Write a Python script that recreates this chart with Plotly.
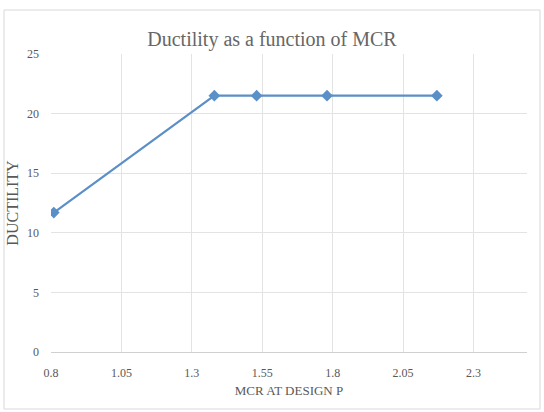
import plotly.graph_objects as go

# MCR at design pressure vs. ductility
mcr = [0.81, 1.38, 1.53, 1.78, 2.17]
ductility = [11.7, 21.5, 21.5, 21.5, 21.5]

x_ticks = [0.8, 1.05, 1.3, 1.55, 1.8, 2.05, 2.3]
x_tick_labels = ["0.8", "1.05", "1.3", "1.55", "1.8", "2.05", "2.3"]
y_ticks = [0, 5, 10, 15, 20, 25]

FONT = "Liberation Serif, Times New Roman, serif"
TEXT = "#595959"
GRID = "#e3e3e3"

fig = go.Figure(
    go.Scatter(
        x=mcr,
        y=ductility,
        mode="lines+markers",
        line=dict(color="#5b8fc7", width=2.2),
        marker=dict(symbol="diamond", size=9, color="#5b8fc7"),
        showlegend=False,
    )
)

fig.update_layout(
    width=544,
    height=412,
    margin=dict(l=51, r=17, t=54, b=60),
    paper_bgcolor="white",
    plot_bgcolor="white",
    font=dict(family=FONT, color=TEXT),
    title=dict(
        text="Ductility as a function of MCR",
        x=0.5,
        xanchor="center",
        y=1 - 39 / 412,
        yanchor="middle",
        font=dict(family=FONT, size=20, color="#666666"),
    ),
    xaxis=dict(
        range=[0.8, 2.49],
        tickvals=x_ticks,
        ticktext=x_tick_labels,
        showgrid=True,
        gridcolor=GRID,
        gridwidth=1,
        zeroline=False,
        showline=True,
        linecolor="#d0d0d0",
        linewidth=1,
        ticks="",
        ticklabelstandoff=10,
        tickfont=dict(family=FONT, size=12, color=TEXT),
        title=dict(text="MCR AT DESIGN P", font=dict(family=FONT, size=13, color=TEXT), standoff=6),
    ),
    yaxis=dict(
        range=[0, 25],
        tickvals=y_ticks,
        showgrid=True,
        gridcolor=GRID,
        gridwidth=1,
        zeroline=False,
        showline=False,
        ticks="",
        ticklabelstandoff=11,
        tickfont=dict(family=FONT, size=12, color=TEXT),
        title=dict(text="DUCTILITY", font=dict(family=FONT, size=16, color=TEXT), standoff=4),
    ),
    shapes=[
        dict(
            type="rect",
            xref="paper",
            yref="paper",
            x0=(4 - 51) / 476,
            x1=(540 - 51) / 476,
            y0=-(409 - 352) / 298,
            y1=1 + (54 - 10) / 298,
            line=dict(color="#d9d9d9", width=1),
            fillcolor="rgba(0,0,0,0)",
            layer="below",
        )
    ],
)

fig.write_html("out.html")
